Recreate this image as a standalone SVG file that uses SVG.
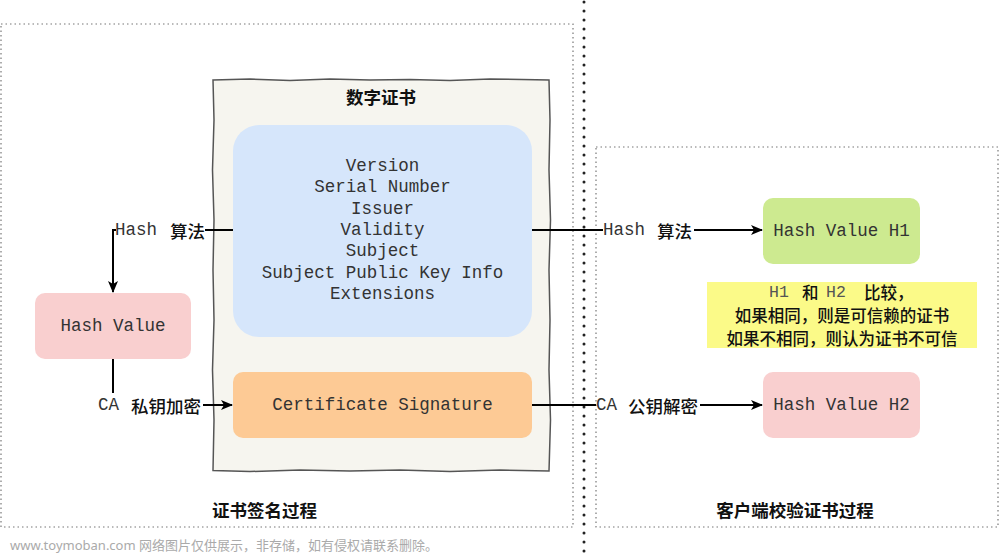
<svg xmlns="http://www.w3.org/2000/svg" width="1000" height="553" viewBox="0 0 1000 553">
<defs>
<marker id="arr" viewBox="0 0 12 10" refX="11" refY="5" markerWidth="12" markerHeight="10" markerUnits="userSpaceOnUse" orient="auto">
<path d="M0 0 L12 5 L0 10 L3 5 Z" fill="#000"/>
</marker>
<style>
.mono{font-family:"Liberation Mono","Courier New",monospace;font-size:17.5px;fill:#333}
.cjk{font-family:"Noto Sans CJK SC","Noto Sans",sans-serif;font-size:17.5px;fill:#111;font-weight:500}
.note{font-family:"Noto Sans CJK SC","Noto Sans",sans-serif;font-size:16.5px;fill:#111;font-weight:500}
.title{font-family:"Noto Sans CJK SC","Noto Sans",sans-serif;font-size:17.5px;fill:#111;font-weight:700}
.frame{fill:none;stroke:#777;stroke-width:1.2;stroke-dasharray:1.5 3}
.conn{fill:none;stroke:#000;stroke-width:2}
.box{stroke:none}
</style>
</defs>
<rect width="1000" height="553" fill="#fff"/>
<g id="frames">
<rect class="frame" x="1" y="24" width="572" height="503"/>
<rect class="frame" x="596" y="147" width="402" height="380"/>
<line x1="584" y1="2" x2="584" y2="553" stroke="#222" stroke-width="3" stroke-linecap="round" stroke-dasharray="0 9"/>
</g>
<g id="certificate">
<path d="M213 80 L250 79 L290 80.5 L330 79 L370 80 L410 79.5 L450 80.5 L490 79 L549 80 L550 120 L549 170 L550.5 220 L549 270 L550 320 L549 370 L550.5 420 L549 471 L500 470 L450 471.5 L400 470 L350 471 L300 470 L250 471.5 L213 470.5 L214 420 L212.5 370 L214 320 L213 270 L214 220 L212.5 170 L214 120 Z" fill="#f6f5ef" stroke="#555" stroke-width="1.5"/>
<text class="title" x="381" y="96" text-anchor="middle" dominant-baseline="central">数字证书</text>
</g>
<g id="fields">
<rect class="box" x="233" y="125" width="299" height="212" rx="26" fill="#d6e6fb"/>
<text class="mono" x="382.500" text-anchor="middle" dominant-baseline="central"><tspan x="382.5" y="166">Version</tspan><tspan x="382.5" y="187.300">Serial Number</tspan><tspan x="382.5" y="208.600">Issuer</tspan><tspan x="382.5" y="230">Validity</tspan><tspan x="382.5" y="251.300">Subject</tspan><tspan x="382.5" y="272.600">Subject Public Key Info</tspan><tspan x="382.5" y="294">Extensions</tspan></text>
</g>
<g id="signature">
<rect class="box" x="233" y="372" width="299" height="66" rx="10" fill="#fdca95"/>
<text class="mono" x="382.500" y="405" text-anchor="middle" dominant-baseline="central">Certificate Signature</text>
</g>
<g id="hash-value">
<rect class="box" x="35" y="293" width="156" height="66" rx="10" fill="#f9cfcf"/>
<text class="mono" x="113" y="326" text-anchor="middle" dominant-baseline="central">Hash Value</text>
</g>
<g id="hash-h1">
<rect class="box" x="763" y="198" width="157" height="66" rx="10" fill="#cdea90"/>
<text class="mono" x="841.500" y="231" text-anchor="middle" dominant-baseline="central">Hash Value H1</text>
</g>
<g id="hash-h2">
<rect class="box" x="763" y="372" width="157" height="66" rx="10" fill="#f9cfcf"/>
<text class="mono" x="841.500" y="405" text-anchor="middle" dominant-baseline="central">Hash Value H2</text>
</g>
<g id="compare">
<rect class="box" x="707" y="282" width="270" height="66" fill="#fbfa88"/>
<text class="mono" x="769" y="292" dominant-baseline="central" style="fill:#555;font-size:16.5px">H1</text>
<text class="note" x="802" y="292" dominant-baseline="central">和</text>
<text class="mono" x="826" y="292" dominant-baseline="central" style="fill:#555;font-size:16.5px">H2</text>
<text class="note" x="864" y="292" dominant-baseline="central">比较，</text>
<text class="note" x="842" y="315" text-anchor="middle" dominant-baseline="central">如果相同，则是可信赖的证书</text>
<text class="note" x="842" y="338" text-anchor="middle" dominant-baseline="central">如果不相同，则认为证书不可信</text>
</g>
<g id="connectors">
<path class="conn" d="M233 230 H205"/>
<path class="conn" d="M116 230 H113 V292" marker-end="url(#arr)"/>
<path class="conn" d="M113 359 V393"/>
<path class="conn" d="M203 405 H232" marker-end="url(#arr)"/>
<path class="conn" d="M532 230 H603"/>
<path class="conn" d="M694 230 H762" marker-end="url(#arr)"/>
<path class="conn" d="M532 405 H596"/>
<path class="conn" d="M700 405 H762" marker-end="url(#arr)"/>
</g>
<g id="labels">
<text class="mono" x="115" y="230" dominant-baseline="central">Hash</text>
<text class="cjk" x="170" y="230" dominant-baseline="central">算法</text>
<text class="mono" x="98" y="405" dominant-baseline="central">CA</text>
<text class="cjk" x="131" y="405" dominant-baseline="central">私钥加密</text>
<text class="mono" x="603" y="230" dominant-baseline="central">Hash</text>
<text class="cjk" x="657" y="230" dominant-baseline="central">算法</text>
<text class="mono" x="596" y="405" dominant-baseline="central">CA</text>
<text class="cjk" x="628" y="405" dominant-baseline="central">公钥解密</text>
<text class="title" x="212" y="509" dominant-baseline="central">证书签名过程</text>
<text class="title" x="795" y="509" text-anchor="middle" dominant-baseline="central">客户端校验证书过程</text>
<text x="10" y="545" dominant-baseline="central" style="font-family:'Noto Sans','Noto Sans CJK SC',sans-serif;font-size:13px;fill:#aaa">www.toymoban.com 网络图片仅供展示，非存储，如有侵权请联系删除。</text>
</g>
</svg>
